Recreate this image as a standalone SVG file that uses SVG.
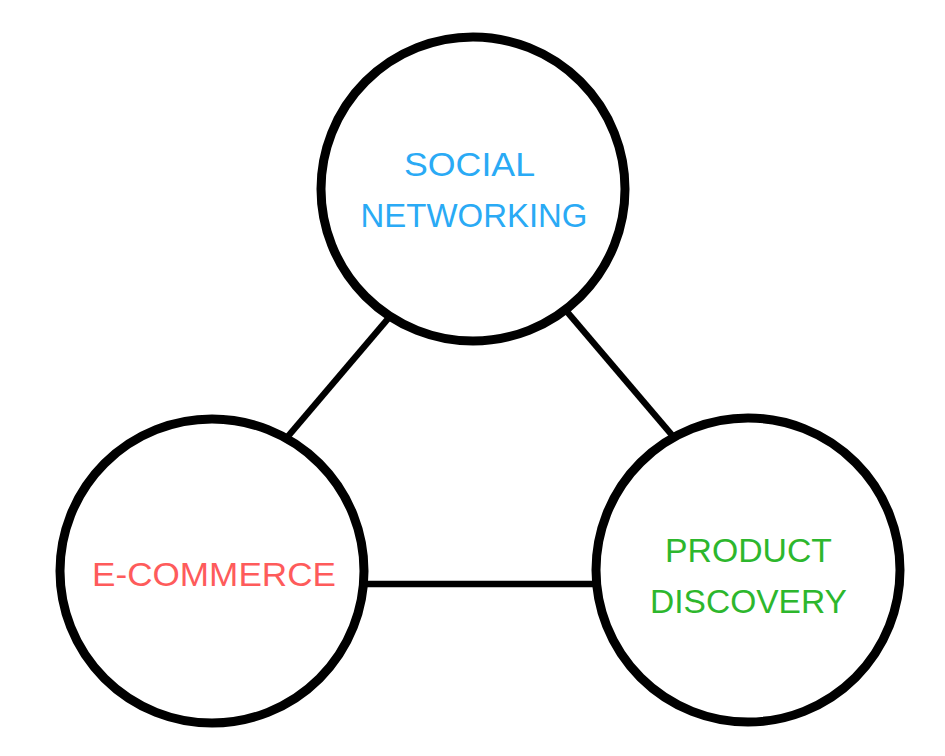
<svg xmlns="http://www.w3.org/2000/svg" width="945" height="756" viewBox="0 0 945 756">
<style>
.node circle{fill:#fff;stroke:#000;stroke-width:9}
.edge{stroke:#000;stroke-width:6.5;fill:none}
.lbl{font-family:"Liberation Sans",Arial,sans-serif;font-size:34px;text-anchor:middle}
.blue{fill:#2aaaf5}
.red{fill:#fe5b5b}
.green{fill:#2db72d}
</style>
<rect width="945" height="756" fill="#fff"/>
<g id="connectors">
<line class="edge" x1="392" y1="314" x2="284" y2="441"/>
<line class="edge" x1="563" y1="307" x2="677" y2="441"/>
<line class="edge" x1="360" y1="584" x2="600" y2="584"/>
</g>
<g id="social-networking" class="node">
<circle cx="473" cy="189" r="152"/>
<text class="lbl blue" x="469.5" y="176" textLength="131" lengthAdjust="spacingAndGlyphs">SOCIAL</text>
<text class="lbl blue" x="474" y="227" textLength="227" lengthAdjust="spacingAndGlyphs">NETWORKING</text>
</g>
<g id="e-commerce" class="node">
<circle cx="212" cy="571" r="152"/>
<text class="lbl red" x="214" y="586" textLength="244" lengthAdjust="spacingAndGlyphs">E-COMMERCE</text>
</g>
<g id="product-discovery" class="node">
<circle cx="748" cy="570" r="152"/>
<text class="lbl green" x="748.5" y="562" textLength="167" lengthAdjust="spacingAndGlyphs">PRODUCT</text>
<text class="lbl green" x="748.5" y="613" textLength="197" lengthAdjust="spacingAndGlyphs">DISCOVERY</text>
</g>
</svg>
